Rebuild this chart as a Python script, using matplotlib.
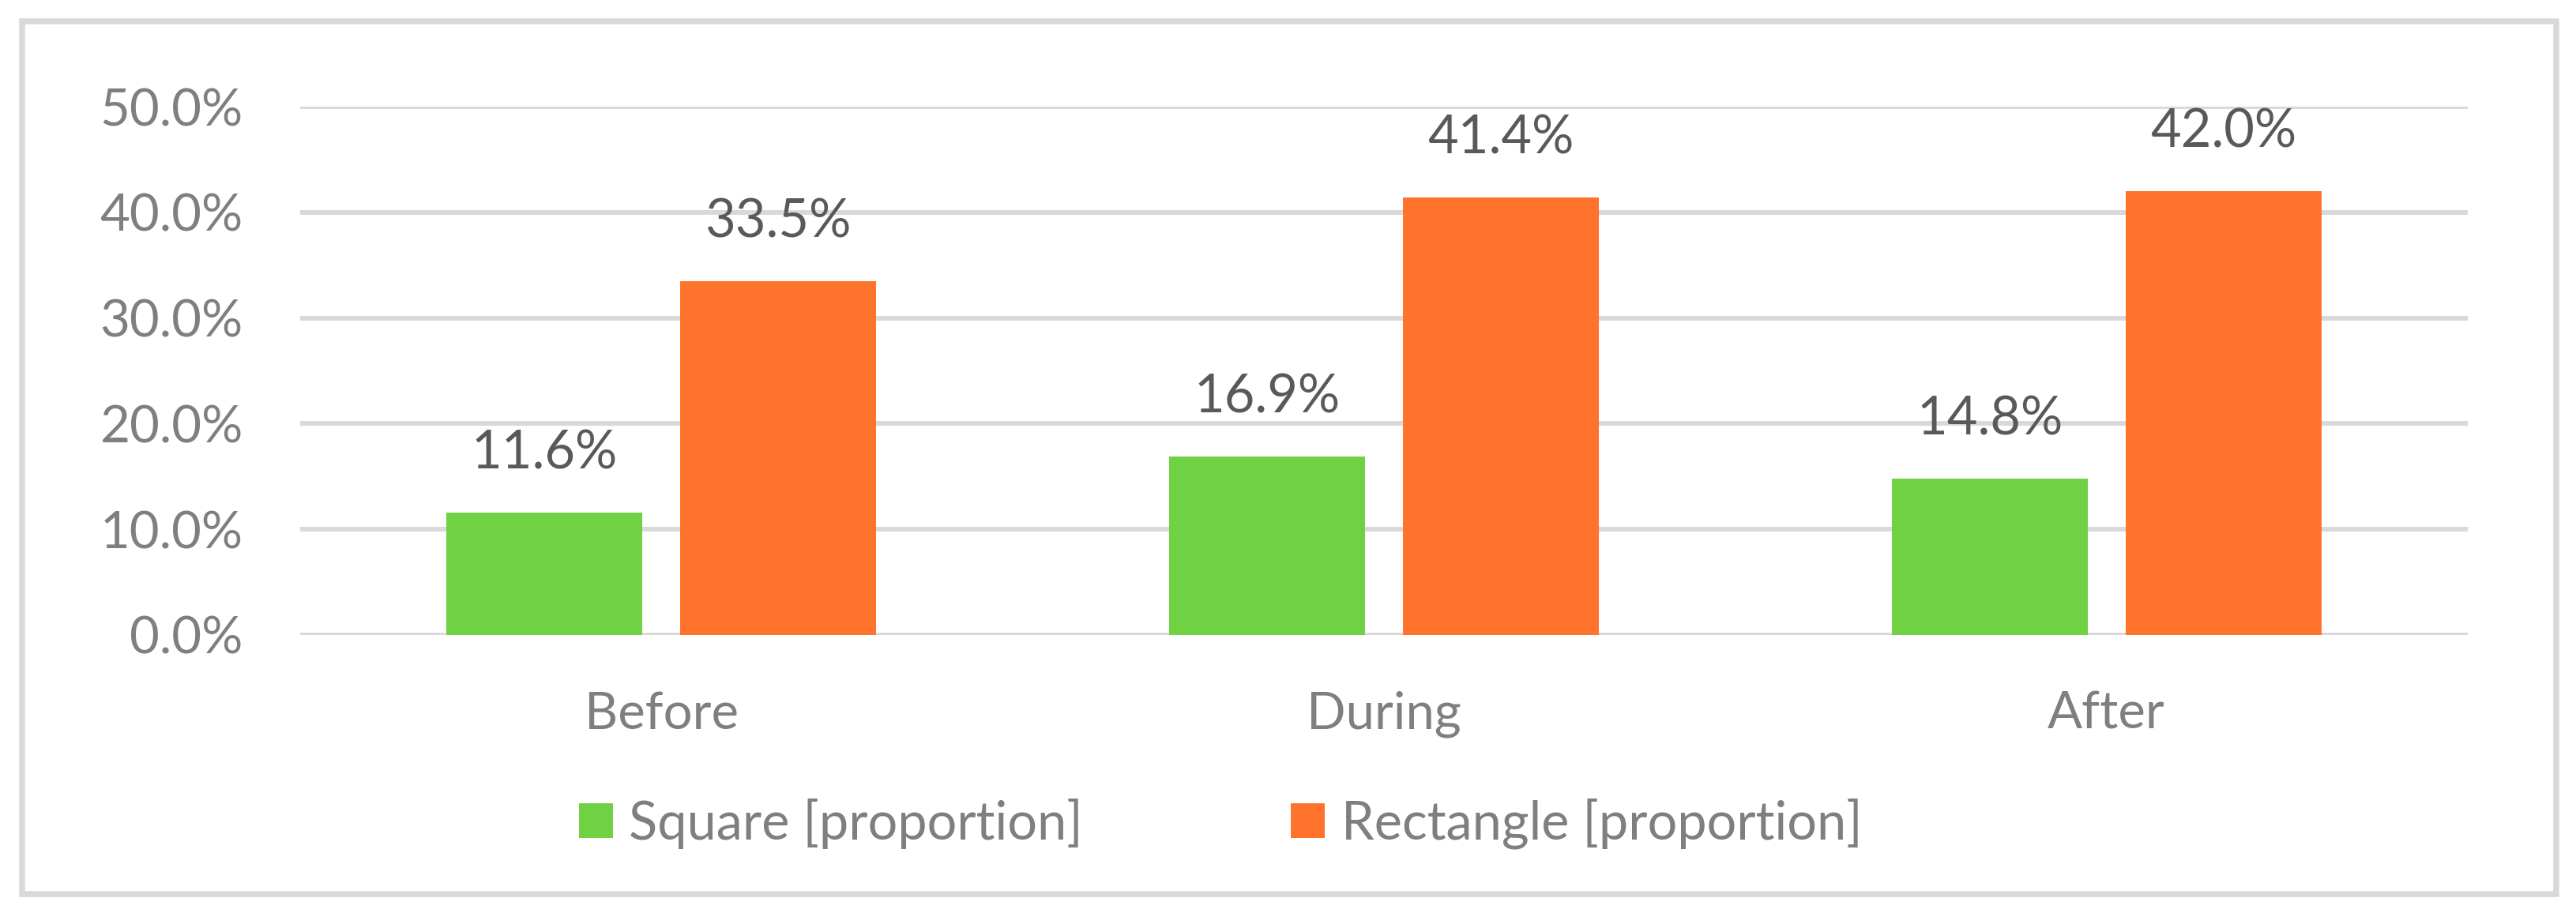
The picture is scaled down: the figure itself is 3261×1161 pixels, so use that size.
import numpy as np
import matplotlib.pyplot as plt
from matplotlib.patches import Rectangle
from matplotlib.ticker import FuncFormatter

# -------------------------
# Data
# -------------------------
categories = ["Before", "During", "After"]
square_vals = [0.116, 0.169, 0.148]
rectangle_vals = [0.335, 0.414, 0.420]
series_names = ["Square [proportion]", "Rectangle [proportion]"]
y_ticks = [0.0, 0.1, 0.2, 0.3, 0.4, 0.5]

GREEN = "#70D143"
ORANGE = "#FF732D"
GRID = "#D9D9D9"
TICK_GREY = "#7F7F7F"
LABEL_GREY = "#595959"

plt.rcParams["font.family"] = ["Lato", "DejaVu Sans"]


def plot_bars():
    W, H = 3262, 1161
    fig = plt.figure(figsize=(W / 100, H / 100), dpi=100)

    # axes placed to match the plot area (pixel coords from the reference)
    left, right, top, bottom = 380, 3124, 135, 804
    ax = fig.add_axes([left / W, 1 - bottom / H, (right - left) / W, (bottom - top) / H])

    x = np.arange(len(categories))
    width = 0.271
    offset = 0.1617
    bars_sq = ax.bar(x - offset, square_vals, width, color=GREEN, label=series_names[0], zorder=3)
    bars_rc = ax.bar(x + offset, rectangle_vals, width, color=ORANGE, label=series_names[1], zorder=3)

    # value labels above bars
    for bars in (bars_sq, bars_rc):
        for b in bars:
            ax.annotate(f"{b.get_height() * 100:.1f}%",
                        (b.get_x() + b.get_width() / 2, b.get_height()),
                        xytext=(0, 40), textcoords="offset points",
                        ha="center", va="baseline", fontsize=48, color=LABEL_GREY)

    ax.set_xlim(-0.5, len(categories) - 0.5)
    ax.set_ylim(0, 0.5)
    ax.set_yticks(y_ticks)
    ax.yaxis.set_major_formatter(FuncFormatter(lambda v, _: f"{v * 100:.1f}%"))
    ax.set_xticks(x)
    ax.set_xticklabels(categories)
    ax.tick_params(axis="both", length=0, labelsize=47, labelcolor=TICK_GREY)
    ax.tick_params(axis="y", pad=52)
    ax.tick_params(axis="x", pad=51)

    ax.grid(axis="y", color=GRID, linewidth=4.3, zorder=0)
    ax.set_axisbelow(True)
    for s in ax.spines.values():
        s.set_visible(False)

    # legend below the plot
    fig.legend(handles=[bars_sq, bars_rc], loc="center left", ncol=2,
               bbox_to_anchor=(733 / W, 1 - 1043 / H), frameon=False,
               fontsize=48, labelcolor=TICK_GREY,
               handlelength=0.64, handleheight=0.64, handletextpad=0.31,
               columnspacing=3.95, borderpad=0, borderaxespad=0)

    # outer chart border
    fig.patches.append(Rectangle((28 / W, 1 - 1132 / H), (3236 - 28) / W, (1132 - 26.5) / H,
                                 transform=fig.transFigure, fill=False,
                                 edgecolor=GRID, linewidth=5.4))

    fig.savefig("out.png", dpi=100, facecolor="white")


if __name__ == "__main__":
    plot_bars()
